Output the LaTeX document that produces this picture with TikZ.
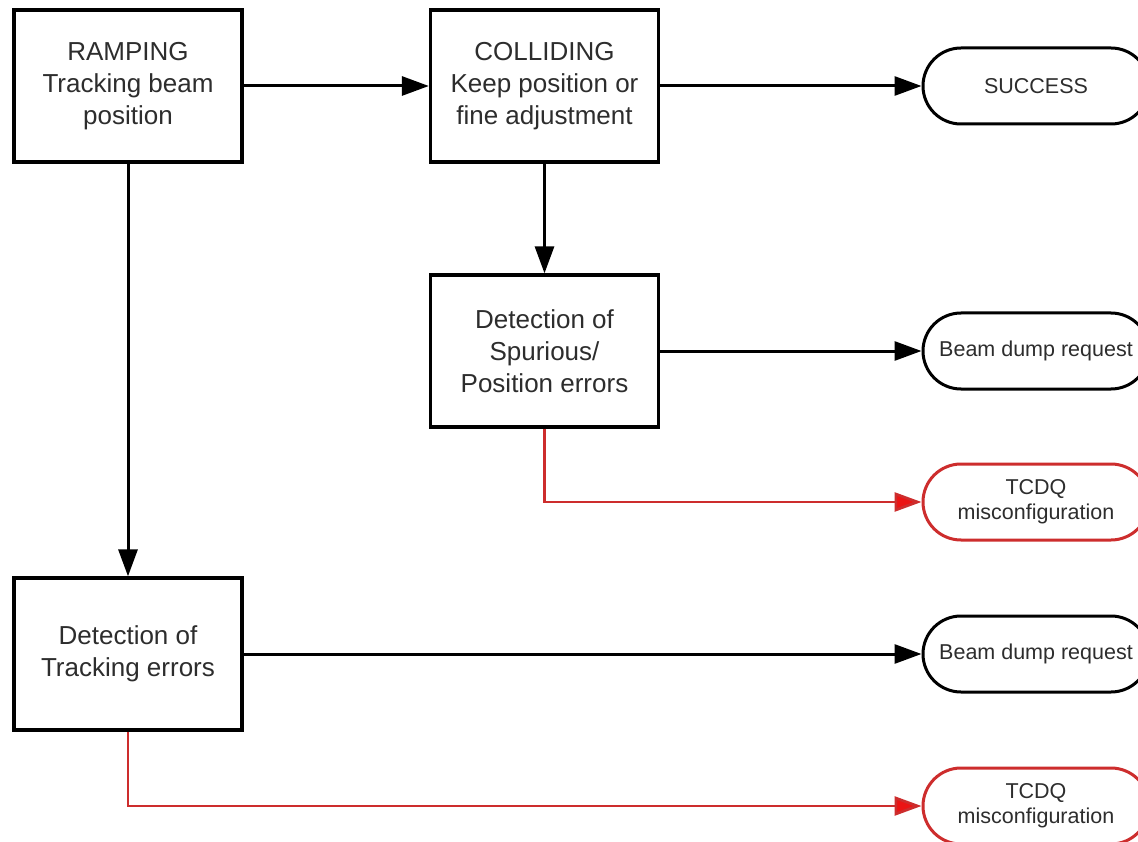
\documentclass[tikz,border=0pt]{standalone}
\usepackage{fontspec}
\setmainfont{Liberation Sans}
\usetikzlibrary{shapes.misc,arrows.meta}

\definecolor{inkgrey}{RGB}{45,45,45}
\definecolor{faultred}{RGB}{205,45,45}
\definecolor{tipred}{RGB}{235,20,20}

\tikzset{
  statebox/.style={draw=black, line width=3.3pt, fill=white, inner sep=0pt,
    minimum width=228pt, minimum height=152pt, align=center, text=inkgrey,
    font=\fontsize{26}{32}\selectfont},
  outcome/.style={rounded rectangle, draw=black, line width=3pt, fill=white,
    inner sep=0pt, minimum width=226pt, minimum height=76pt, align=center,
    text=inkgrey, font=\fontsize{21.5}{25}\selectfont},
  fault/.style={outcome, draw=faultred},
  flow/.style={draw=black, line width=3pt,
    -{Triangle[length=27pt,width=19pt]}},
  faultflow/.style={draw=faultred, line width=2.7pt,
    -{Triangle[length=27pt,width=19pt,fill=tipred]}},
}

\begin{document}
\begin{tikzpicture}[x=1pt, y=-1pt]
  \useasboundingbox (0,0) rectangle (1138,842);

  % state boxes
  \node[statebox] (ramp)  at (128,86)    {RAMPING\\Tracking beam\\position};
  \node[statebox] (coll)  at (544.5,86)  {COLLIDING\\Keep position or\\fine adjustment};
  \node[statebox] (spur)  at (544.5,351) {Detection of\\Spurious/\\Position errors};
  \node[statebox] (track) at (128,654)   {Detection of\\Tracking errors};

  % outcomes on the right
  \node[outcome] (succ)  at (1036,86)  {SUCCESS};
  \node[outcome] (dump1) at (1036,351) {Beam dump request};
  \node[fault]   (tcdq1) at (1036,502) {TCDQ\\misconfiguration};
  \node[outcome] (dump2) at (1036,654) {Beam dump request};
  \node[fault]   (tcdq2) at (1036,806) {TCDQ\\misconfiguration};

  % connectors
  \draw[flow] (ramp.east) -- (coll.west);
  \draw[flow] (coll.east) -- (succ.west);
  \draw[flow] (coll.south) -- (spur.north);
  \draw[flow] (spur.east) -- (dump1.west);
  \draw[faultflow] (spur.south) |- (tcdq1.west);
  \draw[flow] (ramp.south) -- (track.north);
  \draw[flow] (track.east) -- (dump2.west);
  \draw[faultflow] (track.south) |- (tcdq2.west);
\end{tikzpicture}
\end{document}
